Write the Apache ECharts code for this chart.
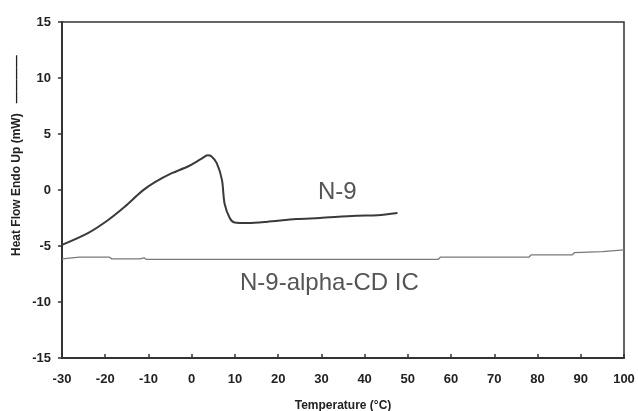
<!DOCTYPE html>
<html lang="en">
<head>
    <meta charset="UTF-8">
    <title>N-9 DSC</title>
    <script src="https://cdn.jsdelivr.net/npm/echarts@6/dist/echarts.min.js"></script>
</head>
<body style="margin:0;background:#fff;">
<div id="main" style="width:638px;height:411px;"></div>
<script type="text/javascript">
    // N-9 curve (temperature, heat flow)
    var n9Temp = [-30, -24, -19.4, -15.5, -11.5, -8.5, -4.6, -0.9, 2.3, 3.7, 4.6, 5.8, 7, 7.6, 8.8, 9.9, 13, 17.3, 24.2, 29.6, 38, 43, 47.6];
    var n9Flow = [-4.9, -3.85, -2.7, -1.5, -0.1, 0.7, 1.5, 2.1, 2.8, 3.1, 3.0, 2.4, 0.9, -1.2, -2.5, -2.9, -2.95, -2.85, -2.6, -2.5, -2.3, -2.25, -2.05];
    // N-9-alpha-CD IC curve
    var icTemp = [-30, -26, -19, -18.5, -12, -11, -10.5, 57, 57.5, 78, 78.5, 88, 88.5, 95, 100];
    var icFlow = [-6.15, -6.0, -6.0, -6.15, -6.15, -6.05, -6.2, -6.2, -6.0, -6.0, -5.8, -5.8, -5.6, -5.5, -5.35];

    function pairs(xs, ys) {
        var out = [];
        for (var i = 0; i < xs.length; i++) out.push([xs[i], ys[i]]);
        return out;
    }

    var myChart = echarts.init(document.getElementById('main'));
    var lblFont = {color: '#222', fontWeight: 'bold', fontSize: 13, fontFamily: '"Liberation Sans Narrow", "Liberation Sans"'};
    myChart.setOption({
        animation: false,
        backgroundColor: '#fff',
        grid: {left: 62, right: 14, top: 22, bottom: 53, outerBoundsMode: 'none', show: true, borderColor: '#333', borderWidth: 1.5},
        xAxis: {
            type: 'value', min: -30, max: 100, interval: 10,
            name: 'Temperature (°C)', nameLocation: 'middle', nameGap: 42,
            nameTextStyle: {color: '#222', fontWeight: 'bold', fontSize: 12, fontFamily: 'Liberation Sans'},
            axisLine: {onZero: false, lineStyle: {color: '#333', width: 2}},
            axisTick: {inside: true, length: 4, lineStyle: {color: '#333', width: 1.5}},
            axisLabel: Object.assign({margin: 15}, lblFont),
            splitLine: {show: false}
        },
        yAxis: {
            type: 'value', min: -15, max: 15, interval: 5,
            axisLine: {onZero: false, lineStyle: {color: '#333', width: 2}},
            axisTick: {length: 4, lineStyle: {color: '#333', width: 1.5}},
            axisLabel: Object.assign({margin: 11}, lblFont),
            splitLine: {show: false}
        },
        series: [
            {
                name: 'N-9', type: 'line', smooth: 0.3, symbol: 'none',
                lineStyle: {color: '#3a3a3a', width: 2},
                data: pairs(n9Temp, n9Flow)
            },
            {
                name: 'N-9-alpha-CD IC', type: 'line', symbol: 'none',
                lineStyle: {color: '#7a7a7a', width: 1.3},
                data: pairs(icTemp, icFlow)
            }
        ],
        graphic: [
            {type: 'text', x: 17, y: 256, rotation: Math.PI / 2,
                style: {text: 'Heat Flow Endo Up (mW)   ————', fill: '#222', textAlign: 'left', textVerticalAlign: 'middle',
                    font: 'bold 12px "Liberation Sans"'}},
            {type: 'text', left: 318, top: 180, style: {text: 'N-9', fill: '#555', font: '24px "Liberation Sans"'}},
            {type: 'text', left: 240, top: 271, style: {text: 'N-9-alpha-CD IC', fill: '#555', font: '24px "Liberation Sans"'}}
        ]
    });
</script>
</body>
</html>
